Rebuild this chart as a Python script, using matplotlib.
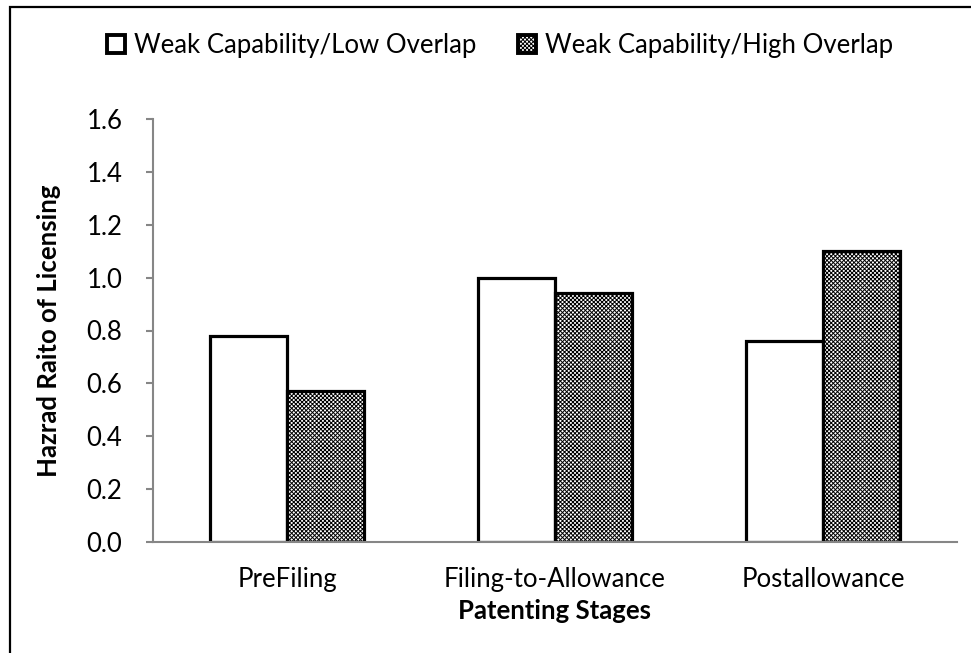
import matplotlib
matplotlib.use("Agg")
import matplotlib.pyplot as plt
from matplotlib.patches import Rectangle
import numpy as np

# Hazard ratios of licensing by patenting stage
stages = ["PreFiling", "Filing-to-Allowance", "Postallowance"]
low_overlap = [0.78, 1.00, 0.76]
high_overlap = [0.57, 0.94, 1.10]
series_names = ["Weak Capability/Low Overlap", "Weak Capability/High Overlap"]
y_ticks = [0.0, 0.2, 0.4, 0.6, 0.8, 1.0, 1.2, 1.4, 1.6]

plt.rcParams["font.family"] = ["Lato", "DejaVu Sans"]
plt.rcParams["hatch.linewidth"] = 0.7

FS = 18.5
W, H = 971, 653
fig = plt.figure(figsize=(W / 100, H / 100), dpi=100)
ax = fig.add_axes([153 / W, 1 - 542 / H, (957 - 153) / W, (542 - 119) / H])

x = np.arange(len(stages))
bw = 0.287
b1 = ax.bar(x - bw / 2, low_overlap, width=bw, color="white",
            edgecolor="black", linewidth=2.3, label=series_names[0], zorder=3)
b2 = ax.bar(x + bw / 2, high_overlap, width=bw, color="white",
            edgecolor="black", linewidth=2.3, hatch="xxxxxxxx",
            label=series_names[1], zorder=3)

ax.set_xlim(-0.5, 2.5)
ax.set_ylim(0, 1.6)
ax.set_yticks(y_ticks)
ax.set_yticklabels([f"{v:.1f}" for v in y_ticks])
ax.set_xticks(x)
ax.set_xticklabels(stages)

gray = "#868686"
for s in ["top", "right"]:
    ax.spines[s].set_visible(False)
for s in ["left", "bottom"]:
    ax.spines[s].set_color(gray)
    ax.spines[s].set_linewidth(1.5)
ax.spines["bottom"].set_zorder(4)
ax.tick_params(axis="y", length=5, width=1.5, color=gray, pad=17,
               labelsize=FS, labelcolor="black")
ax.tick_params(axis="x", length=0, pad=18, labelsize=FS, labelcolor="black")

ax.set_ylabel("Hazrad Raito of Licensing", fontsize=FS, fontweight="bold",
              labelpad=18)
ax.set_xlabel("Patenting Stages", fontsize=FS, fontweight="bold", labelpad=5)

leg = fig.legend(handles=[b1, b2], loc="center", bbox_to_anchor=(500 / W, 1 - 45 / H),
                 ncol=2, frameon=False, fontsize=FS, handlelength=0.7,
                 handleheight=0.7, handletextpad=0.35, columnspacing=1.6,
                 borderaxespad=0)
for p in leg.get_patches():
    p.set_linewidth(2.8)

# outer chart frame
fig.patches.append(Rectangle((10 / W, -0.05), 1.2, 1 - 7 / H + 0.05,
                             transform=fig.transFigure, fill=False,
                             edgecolor="black", linewidth=1.6))

fig.savefig("out.png", dpi=100)
